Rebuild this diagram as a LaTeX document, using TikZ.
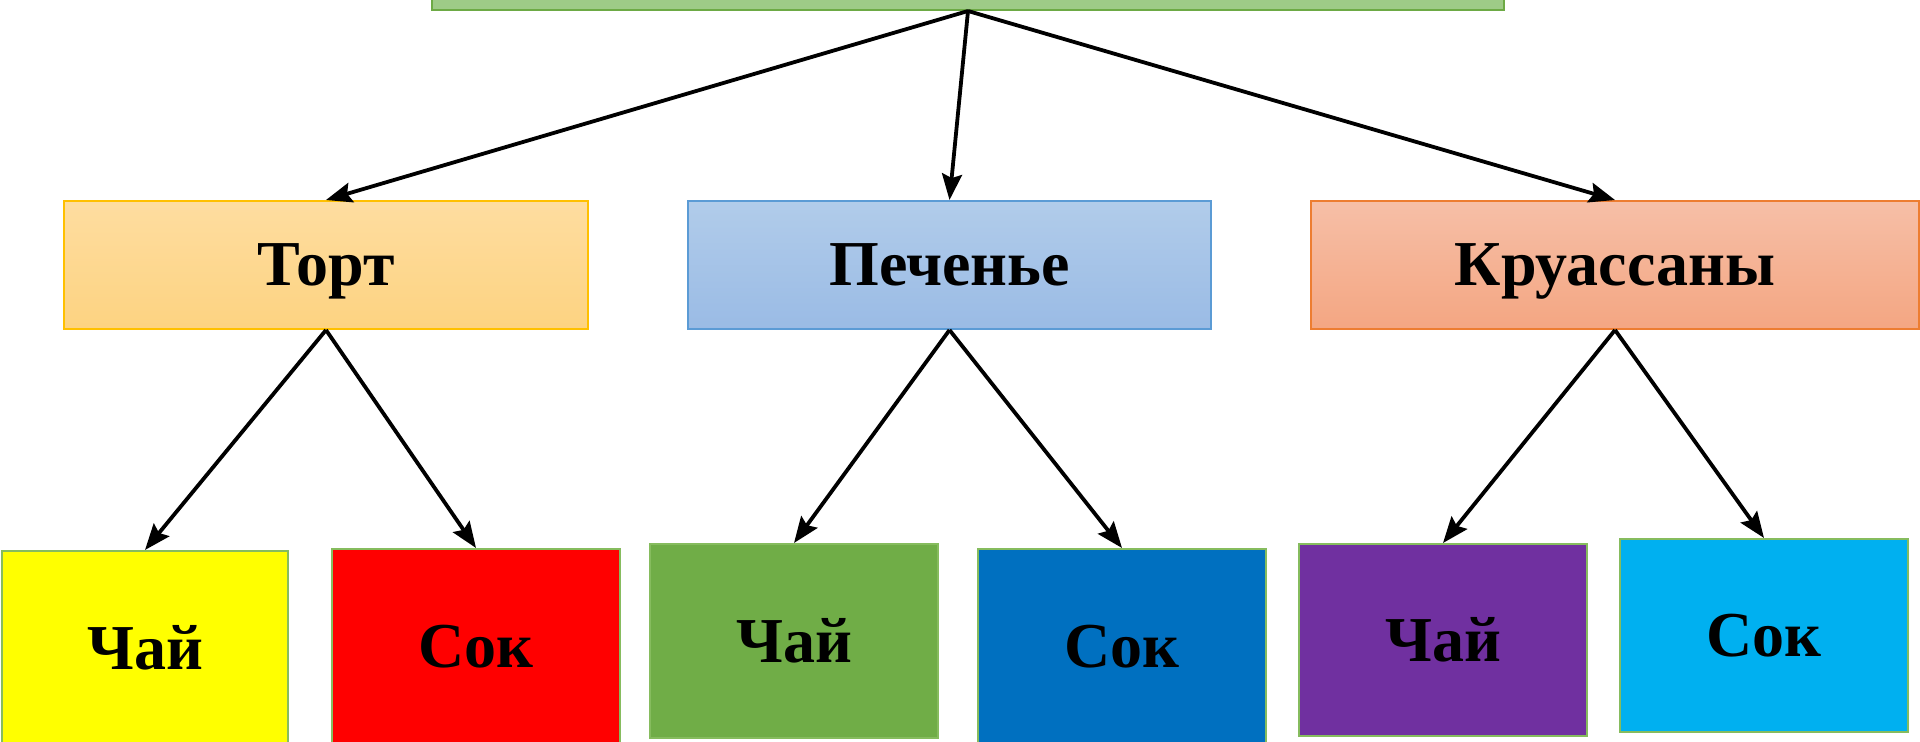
\documentclass[tikz,border=0pt]{standalone}
\usepackage{fontspec}
\setmainfont{Liberation Serif}
\usetikzlibrary{arrows.meta}
\definecolor{rootfill}{HTML}{9ECB87}
\definecolor{rootline}{HTML}{6DAA45}
\definecolor{leafline}{HTML}{86BC5E}
\definecolor{torttop}{HTML}{FEDDA0}
\definecolor{tortbot}{HTML}{FDD381}
\definecolor{tortline}{HTML}{FFC000}
\definecolor{cooktop}{HTML}{B1CCEA}
\definecolor{cookbot}{HTML}{9ABBE5}
\definecolor{cookline}{HTML}{5B9BD5}
\definecolor{croitop}{HTML}{F6BFA7}
\definecolor{croibot}{HTML}{F4A682}
\definecolor{croiline}{HTML}{ED7D31}
\definecolor{teayellow}{HTML}{FFFF00}
\definecolor{teagreen}{HTML}{70AD47}
\definecolor{juiceblue}{HTML}{0070C0}
\definecolor{teapurple}{HTML}{7030A0}
\definecolor{juicecyan}{HTML}{00B0F0}

\begin{document}
\begin{tikzpicture}[x=0.5pt,y=-0.5pt]
\tikzstyle{every node}+=[inner sep=0pt,font=\fontsize{32}{35}\selectfont\bfseries,text height=21pt,text depth=0pt]
\tikzstyle{mid}=[draw,line width=1pt,minimum width=262pt,minimum height=64pt]
\tikzstyle{leaf}=[draw=leafline,line width=1pt,minimum width=144pt,minimum height=97pt]
\tikzstyle{link}=[black,line width=1.9pt,-{Stealth[length=13pt,width=10pt,inset=2pt]}]
\useasboundingbox (0,0) rectangle (1920,742);
\node [draw=rootline,fill=rootfill,line width=1pt,minimum width=536pt,minimum height=30pt] (root) at (968,-20) {};
\node [mid,draw=tortline,top color=torttop,bottom color=tortbot] (tort) at (326,265) {Торт};
\node [mid,draw=cookline,top color=cooktop,bottom color=cookbot,minimum width=261.5pt] (cookie) at (949.5,265) {Печенье};
\node [mid,draw=croiline,top color=croitop,bottom color=croibot,minimum width=304pt] (croissant) at (1615,265) {Круассаны};
\node [leaf,fill=teayellow,minimum width=143pt] (tea1) at (145,648) {Чай};
\node [leaf,fill=red] (juice1) at (476,646) {Сок};
\node [leaf,fill=teagreen] (tea2) at (794,641) {Чай};
\node [leaf,fill=juiceblue] (juice2) at (1122,646) {Сок};
\node [leaf,fill=teapurple,minimum height=96pt] (tea3) at (1443,640) {Чай};
\node [leaf,fill=juicecyan,minimum height=96.5pt] (juice3) at (1764,635.5) {Сок};
\draw [link] (root.south) -- (tort.north);
\draw [link] (root.south) -- (cookie.north);
\draw [link] (root.south) -- (croissant.north);
\draw [link] (tort.south) -- (tea1.north);
\draw [link] (tort.south) -- (juice1.north);
\draw [link] (cookie.south) -- (tea2.north);
\draw [link] (cookie.south) -- (juice2.north);
\draw [link] (croissant.south) -- (tea3.north);
\draw [link] (croissant.south) -- (juice3.north);
\end{tikzpicture}
\end{document}
